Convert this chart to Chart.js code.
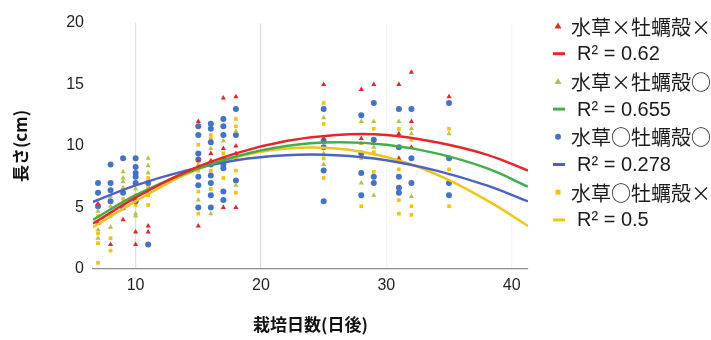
<!DOCTYPE html>
<html>
<head>
<meta charset="utf-8">
<script src="https://cdn.jsdelivr.net/npm/chart.js@4/dist/chart.umd.min.js"></script>
<style>
  html, body { margin: 0; padding: 0; background: #fff; }
  #wrap { width: 711px; height: 340px; }
</style>
</head>
<body>
<div id="wrap"><canvas id="c" width="711" height="340"></canvas></div>
<script>
// Series names and trend-line R² labels
const seriesNames = ['水草×牡蠣殻×', '水草×牡蠣殻○', '水草○牡蠣殻○', '水草○牡蠣殻×'];
const r2Labels = ['R² = 0.62', 'R² = 0.655', 'R² = 0.278', 'R² = 0.5'];

// Axis ticks
const xTicks = [10, 20, 30, 40];
const yTicks = [0, 5, 10, 15, 20];

// Measured lengths (cm) by cultivation day, one list of [day, length] per series
const redPoints = [
  [7, 5.3], [7, 3.7], [8, 2.0], [9, 4.0], [10, 3.0], [10, 2.0], [11, 3.5], [11, 3.0],
  [15, 12.0], [15, 8.8], [15, 3.5], [16, 9.4], [16, 8.8], [17, 13.9], [17, 9.8], [17, 5.0],
  [18, 14.0], [18, 10.0], [18, 9.4], [18, 5.0],
  [25, 15.0], [25, 10.6], [28, 14.6], [28, 10.6], [29, 15.0], [29, 10.2],
  [31, 15.0], [31, 11.0], [31, 9.0], [32, 16.0], [32, 12.0], [32, 9.9], [35, 14.0]
];
const greenPoints = [
  [7, 4.7], [7, 3.2], [7, 2.5], [8, 5.9], [8, 5.1], [8, 3.4],
  [9, 7.9], [9, 7.4], [9, 7.1], [9, 6.6], [9, 5.2], [10, 6.5], [10, 5.9], [10, 4.5], [10, 4.3],
  [11, 9.0], [11, 8.4], [11, 7.8], [11, 6.2],
  [15, 8.5], [15, 5.6], [16, 9.8], [16, 4.5], [17, 10.4], [18, 11.2], [18, 6.8],
  [25, 12.3], [25, 9.4], [25, 8.5], [28, 12.0], [28, 10.2], [28, 7.0], [29, 12.0], [29, 9.9], [29, 6.0],
  [31, 12.0], [32, 11.4], [32, 11.0], [32, 5.9], [35, 11.0]
];
const bluePoints = [
  [7, 7.0], [7, 6.2], [7, 5.1], [8, 8.5], [8, 7.0], [8, 6.4], [8, 5.5], [9, 9.0], [9, 6.2], [9, 5.0],
  [10, 9.0], [10, 8.3], [10, 7.8], [10, 7.5], [10, 7.0], [10, 5.5], [11, 7.0], [11, 2.0],
  [15, 11.6], [15, 10.9], [15, 9.4], [15, 8.9], [15, 7.5], [15, 6.8], [15, 5.0],
  [16, 11.8], [16, 11.4], [16, 10.3], [16, 8.5], [16, 7.6], [16, 7.0], [16, 6.0], [16, 5.0],
  [17, 12.2], [17, 11.6], [17, 10.9], [17, 8.9], [17, 8.5], [17, 8.2], [17, 6.3], [17, 5.6],
  [18, 13.0], [18, 10.9], [18, 7.2],
  [25, 13.0], [25, 10.4], [25, 9.9], [25, 8.0], [25, 5.5], [28, 12.5], [28, 9.4], [28, 7.8], [28, 6.0],
  [29, 13.5], [29, 10.5], [29, 7.5], [29, 7.0], [31, 13.0], [31, 9.9], [31, 7.5], [31, 6.6], [31, 6.2],
  [32, 13.0], [32, 9.0], [32, 7.0], [35, 13.5], [35, 9.0], [35, 7.0], [35, 6.0]
];
const yellowPoints = [
  [7, 4.3], [7, 2.9], [7, 2.1], [7, 0.5], [8, 4.3], [8, 2.5], [8, 1.5], [9, 5.7], [10, 6.0], [10, 5.2],
  [11, 7.4], [11, 6.6], [11, 6.0], [11, 5.2],
  [15, 10.1], [15, 8.0], [15, 6.3], [15, 4.5], [16, 10.9], [16, 10.6], [16, 8.0], [16, 6.5],
  [17, 9.4], [17, 9.0], [17, 7.4], [18, 12.2], [18, 11.6], [18, 8.9], [18, 8.0], [18, 6.2],
  [25, 13.5], [25, 11.8], [25, 9.0], [25, 7.4], [28, 9.0], [28, 5.1], [29, 11.4], [29, 9.5], [29, 7.9],
  [31, 11.4], [31, 8.1], [31, 5.6], [31, 4.5], [32, 10.5], [32, 5.1], [32, 4.4], [35, 11.4], [35, 8.1], [35, 5.1]
];

// Polynomial trend lines, sampled along each curve
const trendDays = [6.6, 10, 14, 18, 22, 26, 30, 34, 38, 41.3];
const redTrend = [3.7, 5.8, 7.9, 9.4, 10.4, 10.9, 10.9, 10.3, 9.3, 8.0];
const greenTrend = [4.0, 6.0, 7.8, 9.15, 10.0, 10.3, 10.1, 9.4, 8.2, 6.7];
const blueTrend = [5.45, 6.8, 8.0, 8.85, 9.25, 9.25, 8.85, 8.0, 6.8, 5.5];
const yellowTrend = [3.4, 5.5, 7.7, 9.1, 9.8, 9.8, 9.1, 7.7, 5.6, 3.5];

const markerColors = ['#e3262c', '#b7c24a', '#4472c4', '#f4c20d'];
const markerStyles = ['triangle', 'triangle', 'circle', 'rect'];
const lineColors = ['#e8262a', '#3faf4a', '#4a63c9', '#f2c318'];

const pointSets = [redPoints, greenPoints, bluePoints, yellowPoints];
const trendSets = [redTrend, greenTrend, blueTrend, yellowTrend];

const toXY = arr => arr.map(([x, y]) => ({ x, y }));

const datasets = [];
trendSets.forEach((vals, i) => {
  datasets.push({
    label: r2Labels[i],
    data: trendDays.map((d, k) => ({ x: d, y: vals[k] })),
    showLine: true,
    borderColor: lineColors[i],
    borderWidth: 2.5,
    pointRadius: 0,
    tension: 0.4,
    fill: false,
    order: 0
  });
});
pointSets.forEach((pts, i) => {
  datasets.push({
    label: seriesNames[i],
    data: toXY(pts),
    showLine: false,
    pointStyle: markerStyles[i],
    pointRadius: markerStyles[i] === 'rect' ? 2.6 : 3,
    backgroundColor: markerColors[i],
    borderColor: markerColors[i],
    borderWidth: 0,
    order: 1
  });
});

// Legend drawn at the right: a marker entry then its R² trend entry for each series
const sideLegend = {
  id: 'sideLegend',
  afterDraw(chart) {
    const ctx = chart.ctx;
    ctx.save();
    const top = 26, step = 27.7;
    seriesNames.forEach((name, i) => {
      const y1 = top + step * (2 * i);
      const y2 = top + step * (2 * i + 1);
      // marker
      ctx.fillStyle = markerColors[i];
      const mx = 558;
      ctx.beginPath();
      if (markerStyles[i] === 'triangle') {
        ctx.moveTo(mx, y1 - 3.5); ctx.lineTo(mx + 3.5, y1 + 2.5); ctx.lineTo(mx - 3.5, y1 + 2.5); ctx.closePath();
      } else if (markerStyles[i] === 'circle') {
        ctx.arc(mx, y1, 3, 0, Math.PI * 2);
      } else {
        ctx.rect(mx - 2.5, y1 - 2.5, 5, 5);
      }
      ctx.fill();
      ctx.fillStyle = '#1b1b1b';
      ctx.textBaseline = 'middle';
      ctx.textAlign = 'left';
      ctx.font = '20px "Noto Sans CJK JP"';
      ctx.fillText(name, 571, y1 + 1);
      // trend line sample
      ctx.strokeStyle = lineColors[i];
      ctx.lineWidth = 3;
      ctx.beginPath();
      ctx.moveTo(553, y2); ctx.lineTo(565, y2);
      ctx.stroke();
      ctx.fillStyle = '#1b1b1b';
      ctx.font = '20px "Liberation Sans", Arial, sans-serif';
      ctx.fillText(r2Labels[i], 577, y2 + 1);
    });
    ctx.restore();
  }
};

new Chart(document.getElementById('c'), {
  type: 'scatter',
  data: { datasets },
  plugins: [sideLegend],
  options: {
    responsive: false,
    animation: false,
    devicePixelRatio: 1,
    layout: { padding: { top: 23, right: 183, left: 0, bottom: 0 } },
    plugins: { legend: { display: false }, tooltip: { enabled: false } },
    scales: {
      x: {
        type: 'linear',
        min: 6.6,
        max: 41.3,
        afterBuildTicks: s => { s.ticks = xTicks.map(v => ({ value: v })); },
        afterFit: s => { s.height = 71; },
        grid: {
          drawTicks: false,
          color: ctx => (ctx.tick && (ctx.tick.value === 10 || ctx.tick.value === 20)) ? 'rgba(0,0,0,0.13)' : 'rgba(0,0,0,0.04)',
          lineWidth: 1.2
        },
        border: { display: true, color: '#8d8d8d', width: 1.2 },
        ticks: {
          padding: 7,
          color: '#1f1f1f',
          font: { family: '"Liberation Sans", Arial, sans-serif', size: 16 }
        },
        title: {
          display: true,
          text: '栽培日数(日後)',
          color: '#111',
          font: { family: '"Noto Sans CJK JP"', size: 17, weight: 'bold' },
          padding: { top: 0, bottom: 5 }
        }
      },
      y: {
        type: 'linear',
        min: 0,
        max: 20,
        afterBuildTicks: s => { s.ticks = yTicks.map(v => ({ value: v })); },
        afterFit: s => { s.width = 93; },
        grid: { display: false, drawTicks: false },
        border: { display: false },
        ticks: {
          padding: 9,
          color: '#1f1f1f',
          font: { family: '"Liberation Sans", Arial, sans-serif', size: 16 }
        },
        title: {
          display: true,
          text: '長さ(cm)',
          color: '#111',
          font: { family: '"Noto Sans CJK JP"', size: 17, weight: 'bold' },
          padding: { top: 10, bottom: 0 }
        }
      }
    }
  }
});
</script>
</body>
</html>
